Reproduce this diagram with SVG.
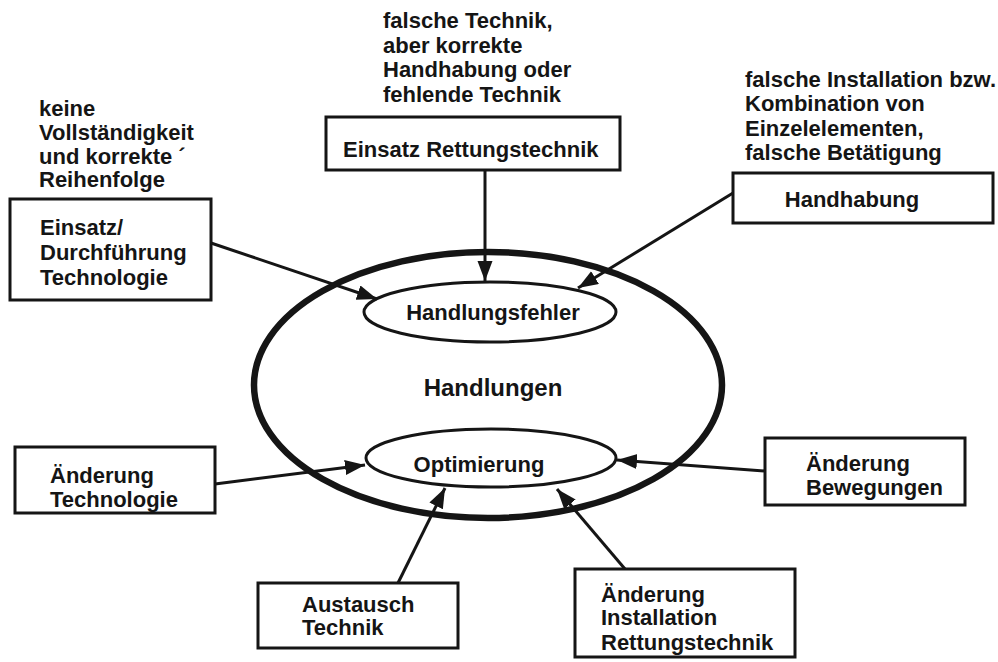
<svg xmlns="http://www.w3.org/2000/svg" width="998" height="662" viewBox="0 0 998 662">
<style>
text{font-family:"Liberation Sans",Arial,sans-serif;font-weight:bold;font-size:22px;fill:#151515}
.box{fill:#fff;stroke:#151515;stroke-width:3}
.ell{fill:#fff;stroke:#151515;stroke-width:3}
.conn{stroke:#151515;stroke-width:3;fill:none;marker-end:url(#ah)}
.mid{text-anchor:middle}
</style>
<defs>
<marker id="ah" markerUnits="userSpaceOnUse" markerWidth="22" markerHeight="16" refX="20" refY="7.5" orient="auto">
<path d="M0,0 L20,7.5 L0,15 z" fill="#151515"/>
</marker>
</defs>
<rect width="998" height="662" fill="#fff"/>

<g id="annotations">
<text x="39" y="116">keine</text>
<text x="39" y="140">Vollständigkeit</text>
<text x="39" y="164">und korrekte ´</text>
<text x="39" y="187">Reihenfolge</text>
<text x="383" y="28">falsche Technik,</text>
<text x="383" y="53">aber korrekte</text>
<text x="383" y="77">Handhabung oder</text>
<text x="383" y="102">fehlende Technik</text>
<text x="745" y="87">falsche Installation bzw.</text>
<text x="745" y="111">Kombination von</text>
<text x="745" y="136">Einzelelementen,</text>
<text x="745" y="160">falsche Betätigung</text>
</g>

<g id="handlungen">
<ellipse cx="488" cy="385" rx="234" ry="133" fill="none" stroke="#151515" stroke-width="6.5"/>
<text class="mid" x="493" y="396" style="font-size:24px">Handlungen</text>
</g>

<g id="handlungsfehler">
<ellipse class="ell" cx="490" cy="312" rx="126" ry="30"/>
<text class="mid" x="493" y="320">Handlungsfehler</text>
</g>

<g id="optimierung">
<ellipse class="ell" cx="491" cy="458" rx="125" ry="29"/>
<text class="mid" x="479" y="472">Optimierung</text>
</g>

<g id="einsatz-technologie">
<rect class="box" x="10" y="199" width="201" height="101"/>
<text x="40" y="235">Einsatz/</text>
<text x="40" y="260">Durchführung</text>
<text x="40" y="285">Technologie</text>
</g>

<g id="einsatz-rettungstechnik">
<rect class="box" x="326" y="117" width="294" height="53"/>
<text x="343" y="157">Einsatz Rettungstechnik</text>
</g>

<g id="handhabung">
<rect class="box" x="733" y="173" width="260" height="50"/>
<text class="mid" x="852" y="207">Handhabung</text>
</g>

<g id="aenderung-technologie">
<rect class="box" x="15" y="447" width="200" height="66"/>
<text x="50" y="483">Änderung</text>
<text x="50" y="507">Technologie</text>
</g>

<g id="aenderung-bewegungen">
<rect class="box" x="765" y="438" width="200" height="67"/>
<text x="806" y="471">Änderung</text>
<text x="806" y="495">Bewegungen</text>
</g>

<g id="austausch-technik">
<rect class="box" x="258" y="583" width="200" height="65"/>
<text x="302" y="612">Austausch</text>
<text x="302" y="635">Technik</text>
</g>

<g id="aenderung-installation">
<rect class="box" x="575" y="569" width="220" height="88"/>
<text x="601" y="602">Änderung</text>
<text x="601" y="625">Installation</text>
<text x="601" y="650">Rettungstechnik</text>
</g>

<g id="connectors">
<line class="conn" x1="211" y1="243" x2="377" y2="299"/>
<line class="conn" x1="485" y1="170" x2="485" y2="281"/>
<line class="conn" x1="733" y1="193" x2="578" y2="288"/>
<line class="conn" x1="215" y1="484" x2="365" y2="465"/>
<line class="conn" x1="765" y1="471" x2="617" y2="460"/>
<line class="conn" x1="398" y1="583" x2="445" y2="488"/>
<line class="conn" x1="625" y1="569" x2="557" y2="489"/>
</g>
</svg>
